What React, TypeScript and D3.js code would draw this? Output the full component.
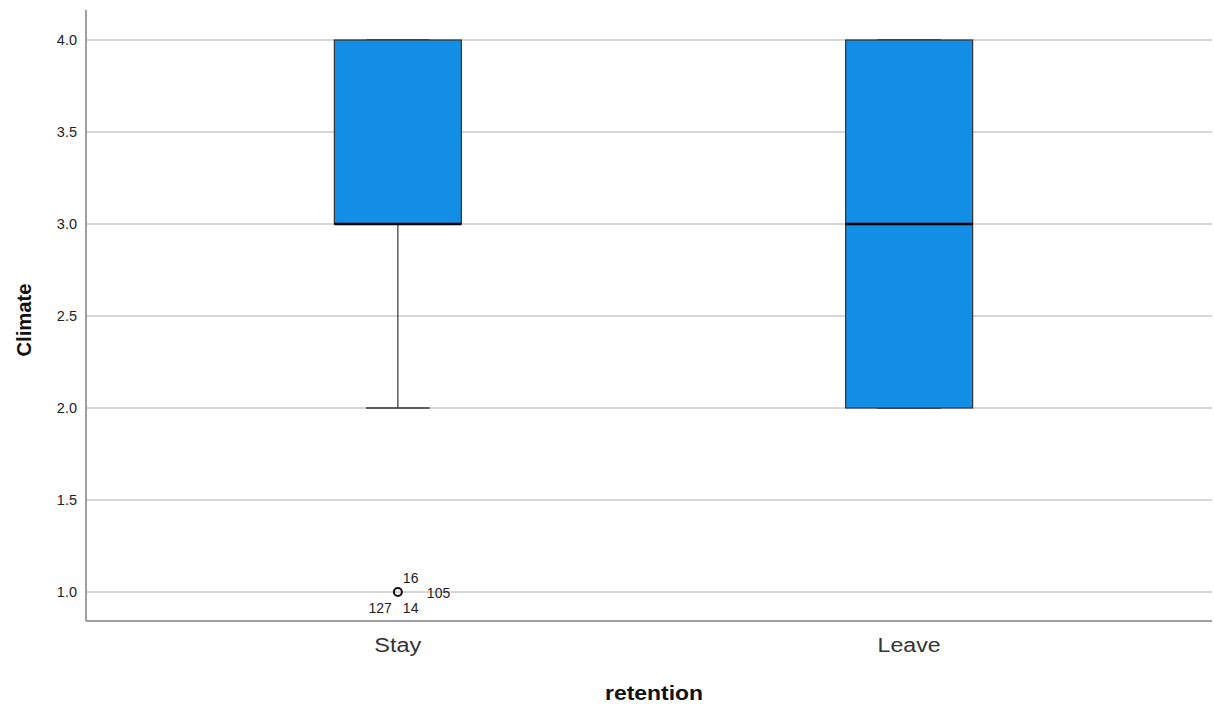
import React from "react";
import * as d3 from "d3";

const categories = ["Stay", "Leave"];
const q1 = [3, 2];
const medians = [3, 3];
const q3 = [4, 4];
const whiskerLow = [2, 2];
const whiskerHigh = [4, 4];
const outlierGroup = ["Stay"];
const outlierValue = [1.0];
const outlierLabels = [["16", "105", "127", "14"]];
const yTicks = [1.0, 1.5, 2.0, 2.5, 3.0, 3.5, 4.0];

const W = 1214;
const H = 713;
const left = 86;
const top = 10;
const bottom = 621;

export default function App() {
  const y = d3.scaleLinear().domain([0.8424, 4.163]).range([bottom, top]);
  const x = d3.scalePoint<string>().domain(categories).range([left, 1221]).padding(0.61);
  const boxW = 127;
  const font = "Arial, 'Liberation Sans', sans-serif";
  const catWidths: Record<string, number> = { Stay: 47, Leave: 63 };

  return (
    <svg width={W} height={H} style={{ position: "absolute", left: 0, top: 0 }}>
      <rect width={W} height={H} fill="#fff" />
      {yTicks.map((t) => (
        <g key={t}>
          <line x1={left} x2={1212} y1={y(t)} y2={y(t)} stroke="#c8c8c8" strokeWidth={1.5} />
          <text x={77} y={y(t)} dy="0.36em" textAnchor="end" fontFamily={font} fontSize={14.5} fill="#222">
            {d3.format(".1f")(t)}
          </text>
        </g>
      ))}
      <line x1={left} x2={left} y1={top} y2={bottom} stroke="#808080" strokeWidth={1.5} />
      <line x1={left} x2={1212} y1={bottom} y2={bottom} stroke="#808080" strokeWidth={1.5} />
      {categories.map((c, i) => {
        const cx = x(c)!;
        return (
          <g key={c}>
            <line x1={cx} x2={cx} y1={y(whiskerLow[i])} y2={y(q1[i])} stroke="#333" strokeWidth={1.2} />
            <line x1={cx} x2={cx} y1={y(whiskerHigh[i])} y2={y(q3[i])} stroke="#333" strokeWidth={1.2} />
            <line x1={cx - boxW / 4} x2={cx + boxW / 4} y1={y(whiskerLow[i])} y2={y(whiskerLow[i])} stroke="#333" strokeWidth={1.5} />
            <line x1={cx - boxW / 4} x2={cx + boxW / 4} y1={y(whiskerHigh[i])} y2={y(whiskerHigh[i])} stroke="#333" strokeWidth={1.5} />
            <rect x={cx - boxW / 2} y={y(q3[i])} width={boxW} height={y(q1[i]) - y(q3[i])} fill="#138ee6" stroke="#333" strokeWidth={1.2} />
            <line x1={cx - boxW / 2} x2={cx + boxW / 2} y1={y(medians[i])} y2={y(medians[i])} stroke="#000" strokeWidth={2.5} />
            <text x={cx} y={652} textAnchor="middle" fontFamily={font} fontSize={20} fill="#333"
              textLength={catWidths[c]} lengthAdjust="spacingAndGlyphs">
              {c}
            </text>
          </g>
        );
      })}
      {outlierGroup.map((g, i) => {
        const cx = x(g)!;
        const cy = y(outlierValue[i]);
        const labs = outlierLabels[i];
        return (
          <g key={g + i}>
            <circle cx={cx} cy={cy} r={4} fill="none" stroke="#111" strokeWidth={2} />
            <text x={cx + 5} y={cy - 9} fontFamily={font} fontSize={14} fill="#222">{labs[0]}</text>
            <text x={cx + 29} y={cy + 6} fontFamily={font} fontSize={14} fill="#222">{labs[1]}</text>
            <text x={cx - 6} y={cy + 21} textAnchor="end" fontFamily={font} fontSize={14} fill="#222">{labs[2]}</text>
            <text x={cx + 5} y={cy + 21} fontFamily={font} fontSize={14} fill="#222">{labs[3]}</text>
          </g>
        );
      })}
      <text transform={`translate(31,320) rotate(-90)`} textAnchor="middle" fontFamily={font} fontSize={20} fontWeight="bold" fill="#111"
        textLength={73} lengthAdjust="spacingAndGlyphs">
        Climate
      </text>
      <text x={654} y={700} textAnchor="middle" fontFamily={font} fontSize={21} fontWeight="bold" fill="#111"
        textLength={98} lengthAdjust="spacingAndGlyphs">
        retention
      </text>
    </svg>
  );
}
